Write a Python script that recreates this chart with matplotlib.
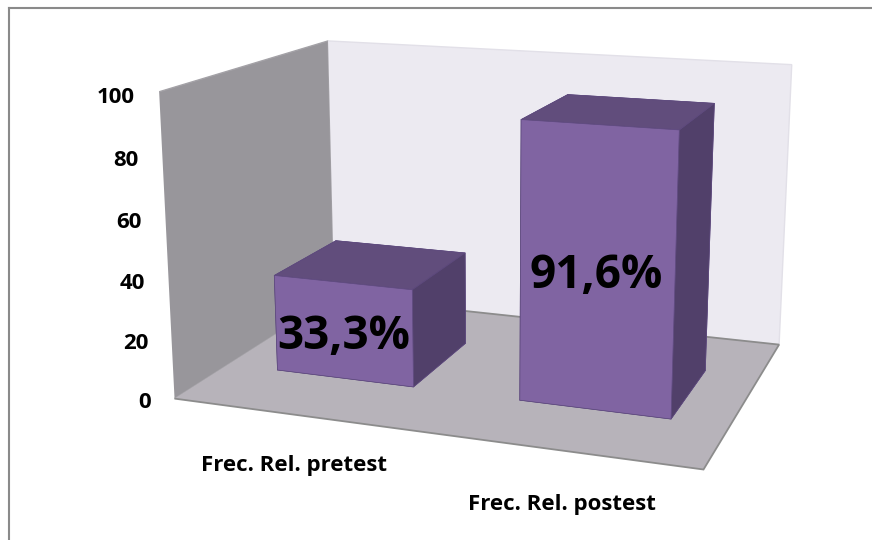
import matplotlib
matplotlib.use("Agg")
import matplotlib.pyplot as plt
from matplotlib.lines import Line2D

# Data
categories = ["Frec. Rel. pretest", "Frec. Rel. postest"]
values = [33.3, 91.6]
z_ticks = [0, 20, 40, 60, 80, 100]

FW, FH = 872, 540
FONT = ["Open Sans", "DejaVu Sans"]

fig = plt.figure(figsize=(FW / 100, FH / 100), dpi=100)
fig.patch.set_facecolor("white")

# Chart-area frame: only its left and top sides fall inside the canvas
fx, fy = 8.5 / FW, 1 - 7.5 / FH
fig.add_artist(Line2D([fx, fx], [-0.01, fy], transform=fig.transFigure,
                      color="#8A8A8A", linewidth=1.5))
fig.add_artist(Line2D([fx, 1.01], [fy, fy], transform=fig.transFigure,
                      color="#8A8A8A", linewidth=1.5))

# 3D plot box: square axes placed so the walls fill the frame
ax = fig.add_axes([139.0 / FW, -39.5 / FH, 686.0 / FW, 686.0 / FH], projection="3d")
ax.set_proj_type("persp", focal_length=0.445)
ax.view_init(elev=14.28, azim=-70.2, roll=0)
ax.set_box_aspect((1, 0.698, 0.5764))
n = len(categories)
ax.set_xlim(0, n)
ax.set_ylim(0, 1)
ax.set_zlim(0, z_ticks[-1])
ax.patch.set_alpha(0)

# Walls and floor
ax.xaxis.set_pane_color("#98969B")
ax.yaxis.set_pane_color("#ECEAF1")
ax.zaxis.set_pane_color("#B7B3BA")
ax.xaxis.pane.set_edgecolor("#A4A2A7")
ax.yaxis.pane.set_edgecolor("#E2E0E8")
ax.zaxis.pane.set_edgecolor("#8C8C8C")
ax.zaxis.pane.set_linewidth(1.3)
ax.grid(False)
for a in (ax.xaxis, ax.yaxis, ax.zaxis):
    a.line.set_linewidth(0)
    a.set_ticks([])
    a.label.set_visible(False)
    a.offsetText.set_visible(False)

# Columns
bar_w = 0.574
bar_d = 0.4
gap = (1 - bar_w) / 2
y_front = (1 - bar_d) / 2
face_cols = []
for _ in values:
    # bottom, top, front, back, left, right
    face_cols += ["#5A4677", "#614D7C", "#8064A2", "#5A4677", "#5A4677", "#51406A"]
xs = [i + gap for i in range(n)]
ax.bar3d(xs, [y_front] * n, [0] * n, [bar_w] * n, [bar_d] * n, values,
         color=face_cols, shade=False, edgecolor="#5E4A7E", linewidth=0.5)

# Value labels on the front faces
for i, v in enumerate(values):
    lab = f"{v:.1f}".replace(".", ",") + "%"
    ax.text(i + 0.5, y_front, v / 2, lab, ha="center", va="center_baseline",
            fontsize=33, fontweight="bold", family=FONT, color="black", zorder=10)

# Value axis labels along the front edge of the left wall
for t in z_ticks:
    ax.text(-0.1, 0, t - 1.4, str(t), ha="right", va="center_baseline",
            fontsize=16, fontweight="bold", family=FONT, color="black", zorder=10)

# Category labels in front of the floor
for i, c in enumerate(categories):
    ax.text(i + 0.545, -0.08, -12.7, c, ha="center", va="center",
            fontsize=16, fontweight="bold", family=FONT, color="black", zorder=10)

fig.savefig("out.png", dpi=100, facecolor="white")
